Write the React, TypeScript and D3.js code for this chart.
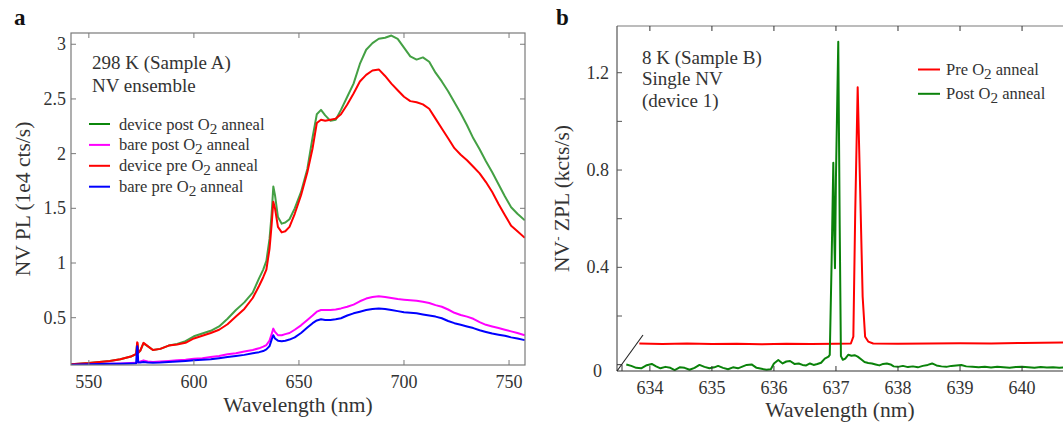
import * as d3 from "d3";

// ---- panel a: room temperature ensemble spectra ----
const A_WL = [
  541.5, 545, 550, 555, 560, 565, 570, 572.5, 573.0, 573.2, 573.5, 574.5, 576, 578, 580.5, 584, 588,
  592, 596, 600, 604, 608, 612, 616, 620, 624, 628, 631, 633, 634.5, 636, 637, 637.8, 638.6, 640,
  641.8, 643.5, 645.5, 648, 651, 654, 656.5, 658.5, 660.5, 662.5, 665, 667.5, 670, 673, 676, 679,
  682, 685, 688, 691, 694, 697, 700, 703, 706, 709, 712, 715, 718, 721, 724, 727, 730, 733, 736,
  739, 742, 745, 748, 751, 754, 757.5,
];
const A_DEVICE_POST = [
  0.075, 0.08, 0.085, 0.095, 0.105, 0.12, 0.145, 0.165, 0.26, 0.25, 0.18, 0.2, 0.265, 0.24, 0.205,
  0.215, 0.245, 0.26, 0.285, 0.33, 0.355, 0.38, 0.42, 0.49, 0.57, 0.64, 0.73, 0.86, 0.94, 1.02,
  1.22, 1.45, 1.7, 1.62, 1.42, 1.36, 1.37, 1.4, 1.5, 1.65, 1.86, 2.15, 2.36, 2.4, 2.35, 2.3, 2.31,
  2.4, 2.52, 2.64, 2.82, 2.95, 3.01, 3.05, 3.06, 3.08, 3.05, 2.97, 2.89, 2.86, 2.88, 2.84, 2.74,
  2.66, 2.57, 2.47, 2.37, 2.26, 2.14, 2.04, 1.93, 1.83, 1.72, 1.61, 1.51, 1.45, 1.39,
];
const A_BARE_POST = [
  0.07, 0.072, 0.075, 0.078, 0.08, 0.082, 0.085, 0.087, 0.09, 0.09, 0.095, 0.1, 0.11, 0.1, 0.095,
  0.1, 0.105, 0.11, 0.115, 0.125, 0.13, 0.14, 0.15, 0.165, 0.175, 0.19, 0.205, 0.22, 0.235, 0.25,
  0.29, 0.35, 0.4, 0.37, 0.34, 0.34, 0.35, 0.36, 0.39, 0.43, 0.48, 0.52, 0.555, 0.57, 0.57, 0.57,
  0.575, 0.585, 0.6, 0.62, 0.65, 0.675, 0.69, 0.695, 0.69, 0.68, 0.67, 0.665, 0.66, 0.655, 0.645,
  0.635, 0.615, 0.6, 0.575, 0.545, 0.525, 0.51, 0.49, 0.46, 0.435, 0.42, 0.405, 0.39, 0.375, 0.36,
  0.34,
];
const A_DEVICE_PRE = [
  0.075, 0.08, 0.085, 0.095, 0.105, 0.12, 0.145, 0.17, 0.275, 0.27, 0.18, 0.2, 0.27, 0.24, 0.205,
  0.215, 0.245, 0.255, 0.27, 0.31, 0.335, 0.36, 0.39, 0.44, 0.51, 0.58, 0.68, 0.79, 0.87, 0.94,
  1.13, 1.35, 1.56, 1.5, 1.33, 1.28, 1.29, 1.33, 1.45, 1.62, 1.83, 2.05, 2.28, 2.31, 2.3, 2.31,
  2.32, 2.36, 2.45, 2.55, 2.66, 2.72, 2.76, 2.77, 2.71, 2.64, 2.58, 2.52, 2.48, 2.47, 2.45, 2.41,
  2.32, 2.23, 2.14, 2.05, 1.99, 1.94, 1.88, 1.82, 1.74, 1.65, 1.54, 1.44, 1.34, 1.29, 1.23,
];
const A_BARE_PRE = [
  0.07, 0.072, 0.074, 0.076, 0.078, 0.08, 0.082, 0.083, 0.24, 0.22, 0.09, 0.09, 0.095, 0.09, 0.088,
  0.09, 0.095, 0.1, 0.105, 0.11, 0.115, 0.12, 0.13, 0.14, 0.15, 0.16, 0.175, 0.185, 0.195, 0.21,
  0.24, 0.3, 0.34, 0.31, 0.29, 0.285, 0.29, 0.3, 0.32, 0.36, 0.41, 0.45, 0.475, 0.485, 0.48, 0.48,
  0.485, 0.495, 0.52, 0.54, 0.555, 0.57, 0.58, 0.585, 0.58, 0.57, 0.56, 0.55, 0.545, 0.54, 0.53,
  0.52, 0.51, 0.495, 0.47, 0.45, 0.435, 0.42, 0.405, 0.385, 0.37, 0.355, 0.345, 0.335, 0.32, 0.31,
  0.295,
];
const A_X_TICKS = [550, 600, 650, 700, 750];
const A_Y_TICKS = [0.5, 1, 1.5, 2, 2.5, 3];

// ---- panel b: 8 K single NV zero phonon line ----
const B_PRE_WL = [
  633.83, 634.2, 634.6, 635.0, 635.4, 635.8, 636.2, 636.6, 637.0, 637.24, 637.28, 637.31, 637.35,
  637.39, 637.43, 637.47, 637.52, 637.6, 638.0, 638.5, 639.0, 639.5, 640.0, 640.75,
];
const B_PRE = [
  0.087, 0.085, 0.087, 0.085, 0.086, 0.084, 0.086, 0.085, 0.086, 0.087, 0.115, 0.62, 1.14, 0.72,
  0.28, 0.115, 0.095, 0.087, 0.086, 0.087, 0.088, 0.087, 0.089, 0.091,
];
const B_POST_WL = [
  633.62, 633.7, 633.78, 633.86, 633.95, 634.03, 634.1, 634.17, 634.25, 634.33, 634.4, 634.48,
  634.56, 634.64, 634.72, 634.8, 634.88, 634.96, 635.04, 635.1, 635.18, 635.26, 635.34, 635.42,
  635.5, 635.56, 635.64, 635.72, 635.8, 635.88, 635.95, 636.0, 636.07, 636.14, 636.2, 636.26,
  636.33, 636.4, 636.46, 636.52, 636.58, 636.64, 636.7, 636.76, 636.82, 636.88, 636.9, 636.93,
  636.957, 636.972, 636.984, 637.0, 637.037, 637.06, 637.08, 637.11, 637.15, 637.2, 637.25, 637.3,
  637.35, 637.41, 637.46, 637.52, 637.58, 637.64, 637.7, 637.76, 637.82, 637.88, 637.93, 638.0,
  638.08, 638.16, 638.24, 638.32, 638.4, 638.48, 638.55, 638.62, 638.7, 638.78, 638.86, 638.94,
  639.02, 639.1, 639.2, 639.3, 639.4, 639.5, 639.6, 639.7, 639.8, 639.9, 640.0, 640.1, 640.2,
  640.3, 640.4, 640.5, 640.6, 640.75,
];
const B_POST = [
  0.001, -0.005, -0.013, -0.015, -0.002, 0.003, -0.007, -0.015, -0.009, -0.013, -0.022, -0.011,
  -0.013, -0.021, -0.013, -0.001, -0.009, -0.015, -0.011, -0.005, -0.013, -0.019, -0.011, -0.015,
  -0.007, -0.001, 0.001, -0.013, -0.017, -0.021, -0.019, 0.005, 0.019, 0.005, 0.013, 0.015, 0.003,
  0.005, -0.001, -0.003, 0.005, -0.001, 0.003, 0.008, 0.025, 0.033, 0.04, 0.425, 0.83, 0.53, 0.396,
  0.775, 1.327, 0.575, 0.035, 0.02, 0.025, 0.041, 0.037, 0.039, 0.033, 0.021, 0.011, 0.007, 0.005,
  0.001, -0.003, 0.003, 0.005, 0.001, -0.007, -0.009, -0.005, -0.01, -0.007, -0.011, -0.005,
  -0.001, 0.005, -0.003, -0.007, -0.009, -0.005, -0.003, -0.001, -0.007, -0.009, -0.011, -0.009,
  -0.012, -0.009, -0.011, -0.013, -0.01, -0.009, -0.011, -0.013, -0.01, -0.012, -0.011, -0.013,
  -0.01,
];
const B_X_TICKS = [634, 635, 636, 637, 638, 639, 640];
const B_Y_TICKS = [0.2, 0.4, 0.6, 0.8, 1.0, 1.2];
const B_Y_LABELS = [0.4, 0.8, 1.2];

const SERIF = "'Liberation Serif', 'DejaVu Serif', serif";
const TXT = "#333";
const AXIS = "#7a7a7a";

function O2Label({ pre, post }: { pre: string; post: string }) {
  return (
    <>
      {pre}O
      <tspan dy={4} fontSize="0.92em">2</tspan>
      <tspan dy={-4}>{post}</tspan>
    </>
  );
}

function PanelA() {
  const L = 71, R = 525, T = 33, B = 365;
  const x = d3.scaleLinear().domain([541.5, 757.6]).range([L, R]);
  const y = d3.scaleLinear().domain([0.0675, 3.103]).range([B, T]);
  const line = (vals: number[]) =>
    d3.line<number>().x((_, i) => x(A_WL[i])).y((d) => y(d))(vals) || "";

  const series = [
    { name: "device post", vals: A_DEVICE_POST, color: "#44a044", legend: "#0b870b" },
    { name: "bare post", vals: A_BARE_POST, color: "#ff00ff", legend: "#ff00ff" },
    { name: "device pre", vals: A_DEVICE_PRE, color: "#ff0000", legend: "#ff0000" },
    { name: "bare pre", vals: A_BARE_PRE, color: "#0000ff", legend: "#0000ff" },
  ];

  return (
    <g fontFamily={SERIF}>
      <text x={14} y={25} fontSize={23} fontWeight="bold" fill="#111">a</text>
      <defs>
        <clipPath id="clipA">
          <rect x={L} y={T} width={R - L} height={B - T} />
        </clipPath>
      </defs>
      <g clipPath="url(#clipA)">
        {series.map((s) => (
          <path key={s.name} d={line(s.vals)} fill="none" stroke={s.color} strokeWidth={2} strokeLinejoin="round" />
        ))}
      </g>
      <rect x={L} y={T} width={R - L} height={B - T} fill="none" stroke={AXIS} strokeWidth={1.2} />
      {A_X_TICKS.map((t) => (
        <g key={t}>
          <line x1={x(t)} x2={x(t)} y1={B} y2={B - 5} stroke={AXIS} />
          <line x1={x(t)} x2={x(t)} y1={T} y2={T + 5} stroke={AXIS} />
          <text x={x(t)} y={B + 23} textAnchor="middle" fontSize={18} fill={TXT}>{t}</text>
        </g>
      ))}
      {A_Y_TICKS.map((t) => (
        <g key={t}>
          <line x1={L} x2={L + 5} y1={y(t)} y2={y(t)} stroke={AXIS} />
          <line x1={R} x2={R - 5} y1={y(t)} y2={y(t)} stroke={AXIS} />
          <text x={66} y={y(t) + 6} textAnchor="end" fontSize={18} fill={TXT}>{t}</text>
        </g>
      ))}
      <text x={(L + R) / 2} y={412} textAnchor="middle" fontSize={21.5} fill={TXT}>Wavelength (nm)</text>
      <text transform={`translate(30,${(T + B) / 2}) rotate(-90)`} textAnchor="middle" fontSize={21.5} fill={TXT}>
        NV PL (1e4 cts/s)
      </text>
      <text x={92} y={68.5} fontSize={19} fill={TXT}>298 K (Sample A)</text>
      <text x={92} y={91.5} fontSize={19} fill={TXT}>NV ensemble</text>
      {series.map((s, i) => (
        <g key={s.name} transform={`translate(0,${124 + i * 20.9})`}>
          <line x1={89} x2={110} y1={0} y2={0} stroke={s.legend} strokeWidth={2} />
          <text x={119} y={5.5} fontSize={16.5} fill={TXT}>
            <O2Label pre={`${s.name} `} post=" anneal" />
          </text>
        </g>
      ))}
    </g>
  );
}

function PanelB() {
  const L = 617, R = 1063, T = 26, B = 371;
  const x = d3.scaleLinear().domain([633.47, 640.66]).range([L, R]);
  const y = d3.scaleLinear().domain([-0.026, 1.392]).range([B, T]);
  const mk = (wl: number[], vals: number[]) =>
    d3.line<number>().x((_, i) => x(wl[i])).y((d) => y(d))(vals) || "";

  return (
    <g fontFamily={SERIF}>
      <text x={556} y={25} fontSize={23} fontWeight="bold" fill="#111">b</text>
      <defs>
        <clipPath id="clipB">
          <rect x={L} y={T} width={R - L} height={B - T} />
        </clipPath>
      </defs>
      <g clipPath="url(#clipB)">
        <path d={mk(B_PRE_WL, B_PRE)} fill="none" stroke="#ff0000" strokeWidth={2} strokeLinejoin="round" />
        <path d={mk(B_POST_WL, B_POST)} fill="none" stroke="#0a820a" strokeWidth={2} strokeLinejoin="round" />
      </g>
      <line x1={L} x2={R} y1={T} y2={T} stroke={AXIS} strokeWidth={1.2} />
      <line x1={L} x2={L} y1={T} y2={B} stroke="#555" strokeWidth={1.2} />
      <line x1={L} x2={R} y1={B} y2={B} stroke="#333" strokeWidth={1.2} />
      {B_X_TICKS.map((t) => (
        <g key={t}>
          <line x1={x(t)} x2={x(t)} y1={B} y2={B - 5} stroke="#333" />
          <line x1={x(t)} x2={x(t)} y1={T} y2={T + 5} stroke="#333" />
          <text x={x(t)} y={B + 23} textAnchor="middle" fontSize={18} fill={TXT}>{t}</text>
        </g>
      ))}
      {B_Y_TICKS.map((t) => (
        <line key={t} x1={L} x2={L + 5} y1={y(t)} y2={y(t)} stroke="#555" />
      ))}
      {B_Y_LABELS.map((t) => (
        <text key={t} x={609} y={y(t) + 6} textAnchor="end" fontSize={18} fill={TXT}>{t.toFixed(1)}</text>
      ))}
      {/* axis break: the zero tick sits just above the broken origin */}
      <line x1={L} x2={L + 5} y1={y(0)} y2={y(0)} stroke="#333" />
      <line x1={L + 5} x2={L + 5} y1={y(0)} y2={B} stroke="#333" />
      <line x1={L} x2={643} y1={B} y2={335} stroke="#222" strokeWidth={1.1} />
      <text x={602} y={B + 6} textAnchor="end" fontSize={18} fill={TXT}>0</text>
      <text x={(L + R) / 2} y={417} textAnchor="middle" fontSize={21.5} fill={TXT}>Wavelength (nm)</text>
      <text transform={`translate(569,${(T + B) / 2}) rotate(-90)`} textAnchor="middle" fontSize={21.5} fill={TXT}>
        NV<tspan dy={-8} fontSize="0.6em">-</tspan>
        <tspan dy={8}> ZPL (kcts/s)</tspan>
      </text>
      <text x={642} y={63.5} fontSize={19} fill={TXT}>8 K (Sample B)</text>
      <text x={642} y={85} fontSize={19} fill={TXT}>Single NV</text>
      <text x={642} y={106.5} fontSize={19} fill={TXT}>(device 1)</text>
      {[
        { name: "Pre ", color: "#ff0000" },
        { name: "Post ", color: "#0a820a" },
      ].map((s, i) => (
        <g key={s.name} transform={`translate(0,${69.5 + i * 24.3})`}>
          <line x1={918} x2={940} y1={0} y2={0} stroke={s.color} strokeWidth={2} />
          <text x={946} y={5.5} fontSize={16.5} fill={TXT}>
            <O2Label pre={s.name} post=" anneal" />
          </text>
        </g>
      ))}
    </g>
  );
}

export default function App() {
  return (
    <svg
      width={1063}
      height={423}
      style={{ position: "absolute", left: 0, top: 0, background: "#fff" }}
    >
      <PanelA />
      <PanelB />
    </svg>
  );
}
